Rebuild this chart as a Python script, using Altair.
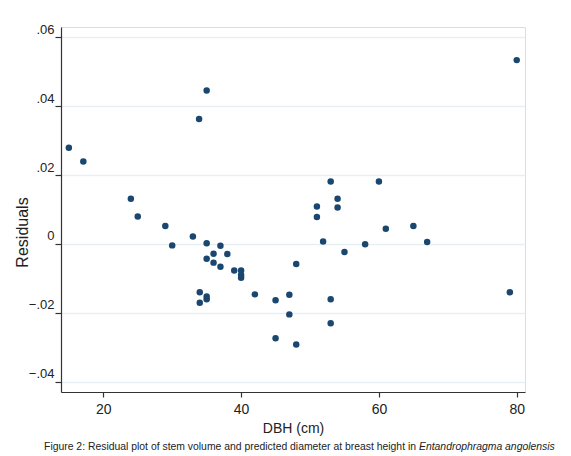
import altair as alt
import pandas as pd

# --- data ---
dbh = [15.0, 17.1, 24.0, 25.0, 29.0, 30.0, 33.0, 33.9, 35.0, 35.0,
       36.0, 37.0, 38.0, 35.0, 36.0, 37.0, 39.0, 40.0, 40.0, 40.0,
       34.0, 34.0, 35.0, 35.0, 42.0, 45.0, 45.0, 47.0, 47.0, 48.0,
       48.0, 51.9, 53.0, 53.0, 55.0, 58.0, 61.0, 65.0, 67.0, 79.0,
       80.0, 53.0, 60.0, 51.0, 51.0, 54.0, 54.0]
residuals = [0.0279, 0.0239, 0.0131, 0.0080, 0.0052, -0.0004, 0.0022, 0.0362, 0.0445, 0.0002,
             -0.0028, -0.0005, -0.0029, -0.0043, -0.0054, -0.0066, -0.0077, -0.0077, -0.0090, -0.0098,
             -0.0140, -0.0170, -0.0152, -0.0160, -0.0146, -0.0163, -0.0273, -0.0147, -0.0204, -0.0058,
             -0.0291, 0.0007, -0.0160, -0.0230, -0.0023, -0.0001, 0.0044, 0.0052, 0.0006, -0.0140,
             0.0533, 0.0181, 0.0181, 0.0109, 0.0078, 0.0131, 0.0106]

x_ticks = [20, 40, 60, 80]
y_ticks = [-0.04, -0.02, 0.0, 0.02, 0.04, 0.06]
x_domain = [13.86, 81.2]
y_domain = [-0.0429, 0.0629]

x_title = "DBH (cm)"
y_title = "Residuals"
caption_main = "Figure 2: Residual plot of stem volume and predicted diameter at breast height in"
caption_italic = "Entandrophragma angolensis"

df = pd.DataFrame({"dbh": dbh, "res": residuals})

W, H = 464, 365
FONT = "Liberation Sans"

points = alt.Chart(df).mark_circle(size=42, color="#1a476f", opacity=1).encode(
    x=alt.X("dbh:Q",
            scale=alt.Scale(domain=x_domain, nice=False, zero=False),
            axis=alt.Axis(values=x_ticks, grid=False, title=x_title,
                          titleFontSize=14, titleFontWeight="normal", titleFont=FONT,
                          titleColor="#222", titleY=40, titleBaseline="alphabetic",
                          labelFontSize=14, labelFont=FONT, labelColor="#222",
                          labelPadding=5, tickSize=5, tickColor="#333", tickWidth=1.2,
                          domainColor="#333", domainWidth=1.2)),
    y=alt.Y("res:Q",
            scale=alt.Scale(domain=y_domain, nice=False, zero=False),
            axis=alt.Axis(values=y_ticks, grid=True, gridColor="#e6eff1", gridWidth=1.5,
                          title=y_title, titleFontSize=16, titleFontWeight="normal",
                          titleFont=FONT, titleColor="#222",
                          titleX=-34, titleY=205, titleBaseline="alphabetic",
                          labelExpr="datum.value == 0 ? '0' : replace(format(datum.value, '.2f'), '0.', '.')",
                          labelFontSize=13, labelFont=FONT, labelColor="#222",
                          labelPadding=1, labelOffset=-8, tickSize=6, tickColor="#333",
                          tickWidth=1.2, domainColor="#333", domainWidth=1.2)),
)

cap1 = alt.Chart(pd.DataFrame({"t": [caption_main]})).mark_text(
    align="right", baseline="alphabetic", fontSize=10.4, font=FONT,
    color="#222").encode(text="t:N", x=alt.value(355), y=alt.value(423))

cap2 = alt.Chart(pd.DataFrame({"t": [caption_italic]})).mark_text(
    align="left", baseline="alphabetic", fontSize=10.4, font=FONT,
    fontStyle="italic", color="#222").encode(text="t:N", x=alt.value(358), y=alt.value(423))

chart = alt.layer(points, cap1, cap2).properties(
    width=W, height=H,
    autosize=alt.AutoSizeParams(type="none"),
    padding={"left": 53, "top": 19, "right": 31, "bottom": 63},
).configure_view(stroke=None).configure(background="white")

chart.save("out.html", embed_options={"renderer": "svg", "actions": False})
